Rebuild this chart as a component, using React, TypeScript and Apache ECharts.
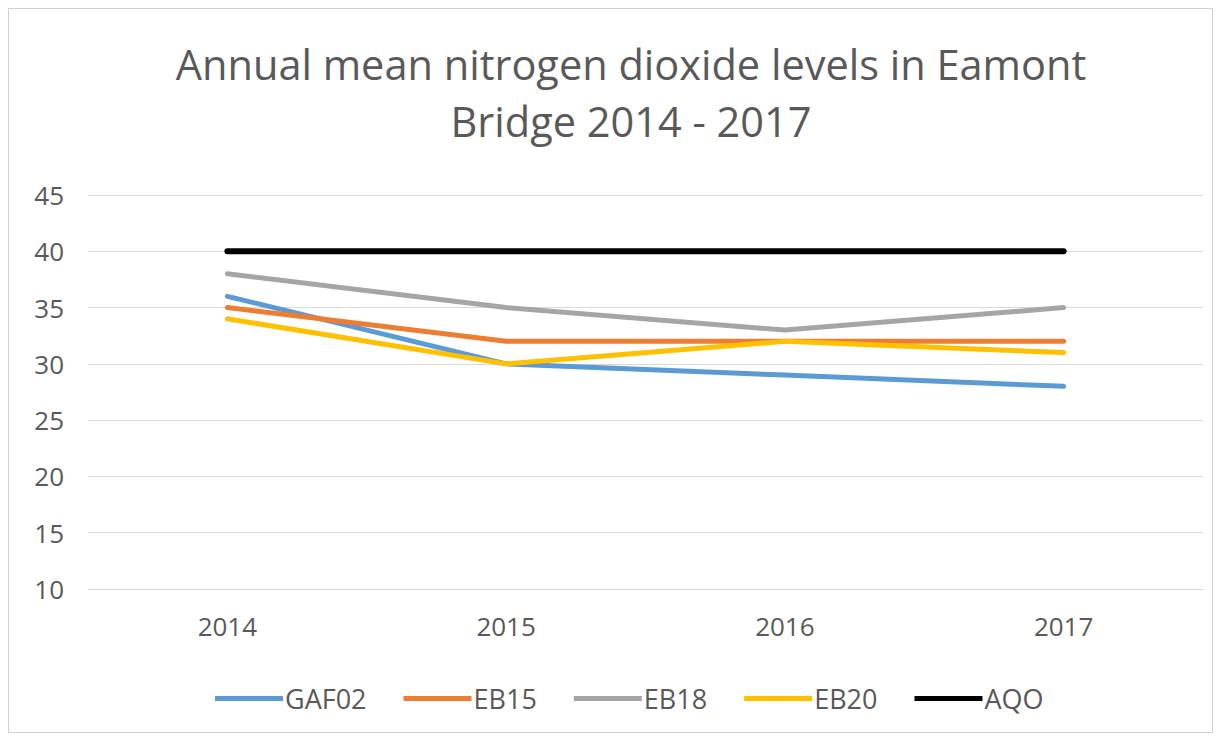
import React, { useEffect, useRef } from "react";
import * as echarts from "echarts";

const categories = ["2014", "2015", "2016", "2017"];
const gaf02 = [36, 30, 29, 28];
const eb15 = [35, 32, 32, 32];
const eb18 = [38, 35, 33, 35];
const eb20 = [34, 30, 32, 31];
const aqo = [40, 40, 40, 40];

const seriesDefs = [
  { name: "GAF02", data: gaf02, color: "#5B9BD5", width: 5 },
  { name: "EB15", data: eb15, color: "#ED7D31", width: 5 },
  { name: "EB18", data: eb18, color: "#A5A5A5", width: 5 },
  { name: "EB20", data: eb20, color: "#FFC000", width: 5 },
  { name: "AQO", data: aqo, color: "#000000", width: 6 },
];

const FONT = "'Open Sans', sans-serif";

export default function App() {
  const ref = useRef<HTMLDivElement>(null);
  useEffect(() => {
    if (!ref.current) return;
    const chart = echarts.init(ref.current, undefined, { renderer: "svg" });
    chart.setOption({
      animation: false,
      backgroundColor: "#ffffff",
      title: {
        text: "Annual mean nitrogen dioxide levels in Eamont\nBridge 2014 - 2017",
        left: 618,
        textAlign: "center",
        top: 22,
        textStyle: {
          fontFamily: FONT,
          fontWeight: "normal",
          fontSize: 41.5,
          lineHeight: 57,
          color: "#595959",
        },
      },
      legend: {
        bottom: 17,
        left: 202,
        itemWidth: 68,
        itemHeight: 14,
        itemGap: 37,
        icon: "path://M0,0 L68,0 L68,5 L0,5 Z",
        textStyle: { fontFamily: FONT, fontSize: 27, color: "#595959", padding: [0, 0, 0, -3] },
        data: seriesDefs.map((s) => s.name),
      },
      grid: { left: 80, right: 11, top: 187, bottom: 145 },
      xAxis: {
        type: "category",
        data: categories,
        boundaryGap: true,
        axisLine: { show: true, lineStyle: { color: "#d9d9d9" } },
        axisTick: { show: false },
        axisLabel: { margin: 24, fontFamily: FONT, fontSize: 26, color: "#595959" },
      },
      yAxis: {
        type: "value",
        min: 10,
        max: 45,
        interval: 5,
        axisLine: { show: false },
        axisTick: { show: false },
        axisLabel: { margin: 24, fontFamily: FONT, fontSize: 26, color: "#595959" },
        splitLine: { lineStyle: { color: "#d9d9d9", width: 1 } },
      },
      series: seriesDefs.map((s) => ({
        name: s.name,
        type: "line",
        data: s.data,
        symbol: "none",
        color: s.color,
        lineStyle: { color: s.color, width: s.width, cap: "round", join: "round" },
        itemStyle: { color: s.color },
      })),
      graphic: [
        {
          type: "rect",
          shape: { x: 0.5, y: 0.5, width: 1204, height: 724 },
          style: { fill: "none", stroke: "#d0d0d0", lineWidth: 1 },
          silent: true,
        },
      ],
    });
    return () => chart.dispose();
  }, []);
  return <div ref={ref} style={{ width: 1206, height: 726 }} />;
}
